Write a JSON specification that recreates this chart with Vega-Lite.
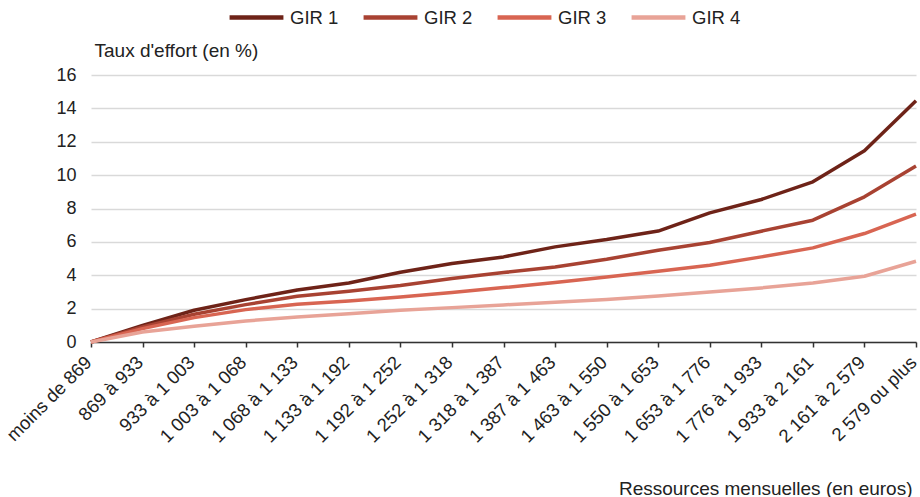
{
  "$schema": "https://vega.github.io/schema/vega-lite/v6.json",
  "width": 825,
  "height": 267,
  "autosize": {"type": "none"},
  "padding": {"left": 91, "top": 75, "right": 4, "bottom": 155},
  "config": {
    "view": {"stroke": null},
    "font": "Liberation Sans",
    "background": "white"
  },
  "datasets": {
    "d": [
      {"revenu": "moins de 869", "gir": "GIR 1", "taux": 0},
      {"revenu": "869 à 933", "gir": "GIR 1", "taux": 1.0},
      {"revenu": "933 à 1 003", "gir": "GIR 1", "taux": 1.9},
      {"revenu": "1 003 à 1 068", "gir": "GIR 1", "taux": 2.54},
      {"revenu": "1 068 à 1 133", "gir": "GIR 1", "taux": 3.12},
      {"revenu": "1 133 à 1 192", "gir": "GIR 1", "taux": 3.54},
      {"revenu": "1 192 à 1 252", "gir": "GIR 1", "taux": 4.18},
      {"revenu": "1 252 à 1 318", "gir": "GIR 1", "taux": 4.7},
      {"revenu": "1 318 à 1 387", "gir": "GIR 1", "taux": 5.1},
      {"revenu": "1 387 à 1 463", "gir": "GIR 1", "taux": 5.7},
      {"revenu": "1 463 à 1 550", "gir": "GIR 1", "taux": 6.14},
      {"revenu": "1 550 à 1 653", "gir": "GIR 1", "taux": 6.65},
      {"revenu": "1 653 à 1 776", "gir": "GIR 1", "taux": 7.74},
      {"revenu": "1 776 à 1 933", "gir": "GIR 1", "taux": 8.54},
      {"revenu": "1 933 à 2 161", "gir": "GIR 1", "taux": 9.6},
      {"revenu": "2 161 à 2 579", "gir": "GIR 1", "taux": 11.46},
      {"revenu": "2 579 ou plus", "gir": "GIR 1", "taux": 14.46},
      {"revenu": "moins de 869", "gir": "GIR 2", "taux": 0},
      {"revenu": "869 à 933", "gir": "GIR 2", "taux": 0.9},
      {"revenu": "933 à 1 003", "gir": "GIR 2", "taux": 1.66},
      {"revenu": "1 003 à 1 068", "gir": "GIR 2", "taux": 2.24},
      {"revenu": "1 068 à 1 133", "gir": "GIR 2", "taux": 2.74},
      {"revenu": "1 133 à 1 192", "gir": "GIR 2", "taux": 3.04},
      {"revenu": "1 192 à 1 252", "gir": "GIR 2", "taux": 3.38},
      {"revenu": "1 252 à 1 318", "gir": "GIR 2", "taux": 3.8},
      {"revenu": "1 318 à 1 387", "gir": "GIR 2", "taux": 4.16},
      {"revenu": "1 387 à 1 463", "gir": "GIR 2", "taux": 4.5},
      {"revenu": "1 463 à 1 550", "gir": "GIR 2", "taux": 4.96},
      {"revenu": "1 550 à 1 653", "gir": "GIR 2", "taux": 5.5},
      {"revenu": "1 653 à 1 776", "gir": "GIR 2", "taux": 5.96},
      {"revenu": "1 776 à 1 933", "gir": "GIR 2", "taux": 6.64},
      {"revenu": "1 933 à 2 161", "gir": "GIR 2", "taux": 7.3},
      {"revenu": "2 161 à 2 579", "gir": "GIR 2", "taux": 8.7},
      {"revenu": "2 579 ou plus", "gir": "GIR 2", "taux": 10.54},
      {"revenu": "moins de 869", "gir": "GIR 3", "taux": 0},
      {"revenu": "869 à 933", "gir": "GIR 3", "taux": 0.8},
      {"revenu": "933 à 1 003", "gir": "GIR 3", "taux": 1.46},
      {"revenu": "1 003 à 1 068", "gir": "GIR 3", "taux": 1.94},
      {"revenu": "1 068 à 1 133", "gir": "GIR 3", "taux": 2.26},
      {"revenu": "1 133 à 1 192", "gir": "GIR 3", "taux": 2.46},
      {"revenu": "1 192 à 1 252", "gir": "GIR 3", "taux": 2.7},
      {"revenu": "1 252 à 1 318", "gir": "GIR 3", "taux": 2.96},
      {"revenu": "1 318 à 1 387", "gir": "GIR 3", "taux": 3.26},
      {"revenu": "1 387 à 1 463", "gir": "GIR 3", "taux": 3.56},
      {"revenu": "1 463 à 1 550", "gir": "GIR 3", "taux": 3.9},
      {"revenu": "1 550 à 1 653", "gir": "GIR 3", "taux": 4.24},
      {"revenu": "1 653 à 1 776", "gir": "GIR 3", "taux": 4.6},
      {"revenu": "1 776 à 1 933", "gir": "GIR 3", "taux": 5.1},
      {"revenu": "1 933 à 2 161", "gir": "GIR 3", "taux": 5.64},
      {"revenu": "2 161 à 2 579", "gir": "GIR 3", "taux": 6.5},
      {"revenu": "2 579 ou plus", "gir": "GIR 3", "taux": 7.66},
      {"revenu": "moins de 869", "gir": "GIR 4", "taux": 0},
      {"revenu": "869 à 933", "gir": "GIR 4", "taux": 0.6},
      {"revenu": "933 à 1 003", "gir": "GIR 4", "taux": 0.94},
      {"revenu": "1 003 à 1 068", "gir": "GIR 4", "taux": 1.26},
      {"revenu": "1 068 à 1 133", "gir": "GIR 4", "taux": 1.5},
      {"revenu": "1 133 à 1 192", "gir": "GIR 4", "taux": 1.7},
      {"revenu": "1 192 à 1 252", "gir": "GIR 4", "taux": 1.9},
      {"revenu": "1 252 à 1 318", "gir": "GIR 4", "taux": 2.06},
      {"revenu": "1 318 à 1 387", "gir": "GIR 4", "taux": 2.22},
      {"revenu": "1 387 à 1 463", "gir": "GIR 4", "taux": 2.38},
      {"revenu": "1 463 à 1 550", "gir": "GIR 4", "taux": 2.54},
      {"revenu": "1 550 à 1 653", "gir": "GIR 4", "taux": 2.75},
      {"revenu": "1 653 à 1 776", "gir": "GIR 4", "taux": 3.0},
      {"revenu": "1 776 à 1 933", "gir": "GIR 4", "taux": 3.24},
      {"revenu": "1 933 à 2 161", "gir": "GIR 4", "taux": 3.54},
      {"revenu": "2 161 à 2 579", "gir": "GIR 4", "taux": 3.94},
      {"revenu": "2 579 ou plus", "gir": "GIR 4", "taux": 4.84}
    ]
  },
  "data": {"name": "d"},
  "mark": {"type": "line", "strokeWidth": 3.5, "strokeJoin": "round"},
  "encoding": {
    "x": {
      "field": "revenu",
      "type": "ordinal",
      "sort": null,
      "scale": {"type": "point", "padding": 0},
      "axis": {
        "title": "Ressources mensuelles (en euros)",
        "titleFontSize": 19,
        "titleFontWeight": "normal",
        "titleColor": "#222222",
        "titleAnchor": "end",
        "titleAlign": "right",
        "titleX": 821,
        "titleY": 152,
        "titleBaseline": "alphabetic",
        "labelAngle": -45,
        "labelAlign": "right",
        "labelBaseline": "middle",
        "labelFontSize": 18.5,
        "labelColor": "#222222",
        "labelPadding": 12,
        "labelOffset": -3,
        "labelOverlap": false,
        "labelBound": false,
        "domainColor": "#333333",
        "domainWidth": 1.5,
        "tickColor": "#333333",
        "tickWidth": 1.5,
        "tickSize": 5,
        "grid": false
      }
    },
    "y": {
      "field": "taux",
      "type": "quantitative",
      "scale": {"domain": [0, 16]},
      "axis": {
        "title": "Taux d'effort (en %)",
        "titleFontSize": 19,
        "titleFontWeight": "normal",
        "titleColor": "#222222",
        "titleAngle": 0,
        "titleAlign": "left",
        "titleBaseline": "alphabetic",
        "titleX": 3,
        "titleY": -19,
        "values": [0, 2, 4, 6, 8, 10, 12, 14, 16],
        "labelFontSize": 18,
        "labelColor": "#222222",
        "labelPadding": 15,
        "ticks": false,
        "domain": false,
        "grid": true,
        "gridColor": "#d9d9d9",
        "gridWidth": 1.5
      }
    },
    "color": {
      "field": "gir",
      "type": "nominal",
      "scale": {
        "domain": ["GIR 1", "GIR 2", "GIR 3", "GIR 4"],
        "range": ["#6e2318", "#a84232", "#d86552", "#e8a397"]
      },
      "legend": {
        "title": null,
        "orient": "none",
        "direction": "horizontal",
        "legendX": 136,
        "legendY": -87,
        "symbolType": "stroke",
        "symbolStrokeWidth": 4.5,
        "symbolSize": 2900,
        "labelFontSize": 18.5,
        "labelColor": "#222222",
        "labelOffset": 4,
        "columnPadding": 15,
        "padding": 0
      }
    }
  }
}
